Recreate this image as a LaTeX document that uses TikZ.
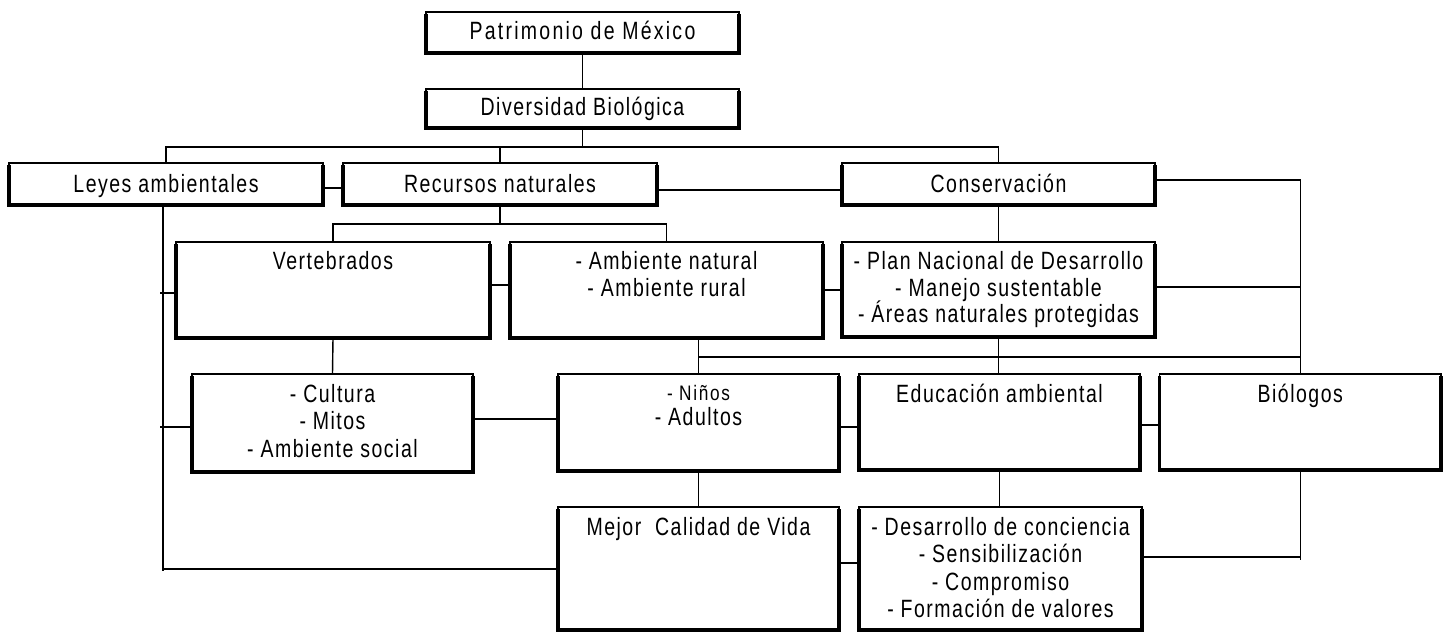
\documentclass[tikz,border=0pt]{standalone}
\usepackage{fontspec}
\setmainfont{Liberation Sans}[FakeStretch=0.78,LetterSpace=6]
\newfontfamily\widefont{Liberation Sans}[FakeStretch=0.78,LetterSpace=9]
\newfontfamily\smallfont{Liberation Sans}[FakeStretch=0.82,LetterSpace=8]
\newcommand{\bxt}[4]{\parbox[c][#2pt][t]{#1pt}{\centering\fontsize{25}{27.5}\selectfont\rule{0pt}{#3pt}#4}}
\tikzset{
  box/.style={draw, line width=1.3pt, inner sep=0pt, outer sep=0pt, anchor=north west},
  conn/.style={line width=1.4pt},
  thickedge/.style={line width=3.6pt}
}
\begin{document}
\begin{tikzpicture}[x=1pt,y=-1pt]
\useasboundingbox (0,0) rectangle (1451,632);
% boxes
\node[box] (P) at (426,12) {\bxt{313}{41}{27}{\widefont Patrimonio de México}};
\node[box] (D) at (426,89) {\bxt{313}{39}{26}{Diversidad Biológica}};
\node[box] (L) at (9,163) {\bxt{314}{42}{29}{Leyes ambientales}};
\node[box] (R) at (343,163) {\bxt{314}{42}{29}{Recursos naturales}};
\node[box] (C) at (842,163) {\bxt{313}{42}{29}{Conservación}};
\node[box] (V) at (176,242) {\bxt{314}{96}{27}{Vertebrados}};
\node[box] (A) at (510,242) {\bxt{313}{96}{27}{- Ambiente natural\\- Ambiente rural}};
\node[box] (PN) at (842,242) {\bxt{313}{95}{27}{- Plan Nacional de Desarrollo\\[-0.5pt]- Manejo sustentable\\[-1pt]- Áreas naturales protegidas}};
\node[box] (Cu) at (192,374) {\bxt{281}{98}{28}{- Cultura\\- Mitos\\- Ambiente social}};
\node[box] (N) at (558,374) {\bxt{281}{97}{26}{{\smallfont\fontsize{21}{20}\selectfont - Niños}\\[-2.5pt]- Adultos}};
\node[box] (E) at (859,374) {\bxt{281}{96}{28}{Educación ambiental}};
\node[box] (B) at (1159.5,374) {\bxt{281.5}{96}{28}{Biólogos}};
\node[box] (M) at (558,507) {\bxt{281}{123}{28}{Mejor~ Calidad de Vida}};
\node[box] (De) at (859,507) {\bxt{283}{123}{28}{- Desarrollo de conciencia\\- Sensibilización\\- Compromiso\\- Formación de valores}};
% thick shadow edges
\foreach \n in {P,D,L,R,C,V,A,PN,Cu,N,E,B,M,De}
  \draw[thickedge] ([yshift=-1.5pt]\n.north west) -- (\n.south west) -- (\n.south east) -- ([yshift=-1.5pt]\n.north east);
% bus coordinates
\coordinate (bus1) at (0,147);
\coordinate (bus2) at (0,224);
\coordinate (bus3) at (0,357);
% connectors
\draw[conn] (P.south) -- (D.north);
\draw[conn] (D.south) -- (D.south |- bus1);
\draw[conn] (L.north) -- (L.north |- bus1) -- (C.north |- bus1) -- (C.north);
\draw[conn] (R.north) -- (R.north |- bus1);
\draw[conn] (L.east |- 0,188) -- (R.west |- 0,188);
\draw[conn] (R.east |- 0,190) -- (C.west |- 0,190);
\draw[conn] (C.east |- 0,180) -| (B.north);
\draw[conn] (PN.east |- 0,287) -- (B.north |- 0,287);
\draw[conn] (R.south) -- (R.south |- bus2);
\draw[conn] (V.north) -- (V.north |- bus2) -- (A.north |- bus2) -- (A.north);
\draw[conn] (C.south) -- (PN.north);
\draw[conn] (PN.south) -- (PN.south |- E.north);
\draw[conn] (V.east |- 0,285) -- (A.west |- 0,285);
\draw[conn] (A.east |- 0,290) -- (PN.west |- 0,290);
\draw[conn] (L.south -| 163,0) -- (163,571);
\draw[conn] (160,293) -- (V.west |- 0,293);
\draw[conn] (160,427) -- (Cu.west |- 0,427);
\draw[conn] (163,569) -- (M.west |- 0,569);
\draw[conn] (V.south) -- (Cu.north);
\draw[conn] (Cu.east |- 0,419) -- (N.west |- 0,419);
\draw[conn] (A.south -| N.north) -- (N.north);
\draw[conn] (N.north |- bus3) -- (B.north |- bus3);
\draw[conn] (N.east |- 0,427) -- (E.west |- 0,427);
\draw[conn] (E.east |- 0,425) -- (B.west |- 0,425);
\draw[conn] (N.south) -- (M.north);
\draw[conn] (E.south) -- (E.south |- De.north);
\draw[conn] (M.east |- 0,563) -- (De.west |- 0,563);
\draw[conn] (B.south) -- (B.south |- 0,560);
\draw[conn] (De.east |- 0,557) -- (B.south |- 0,557);
\end{tikzpicture}
\end{document}
